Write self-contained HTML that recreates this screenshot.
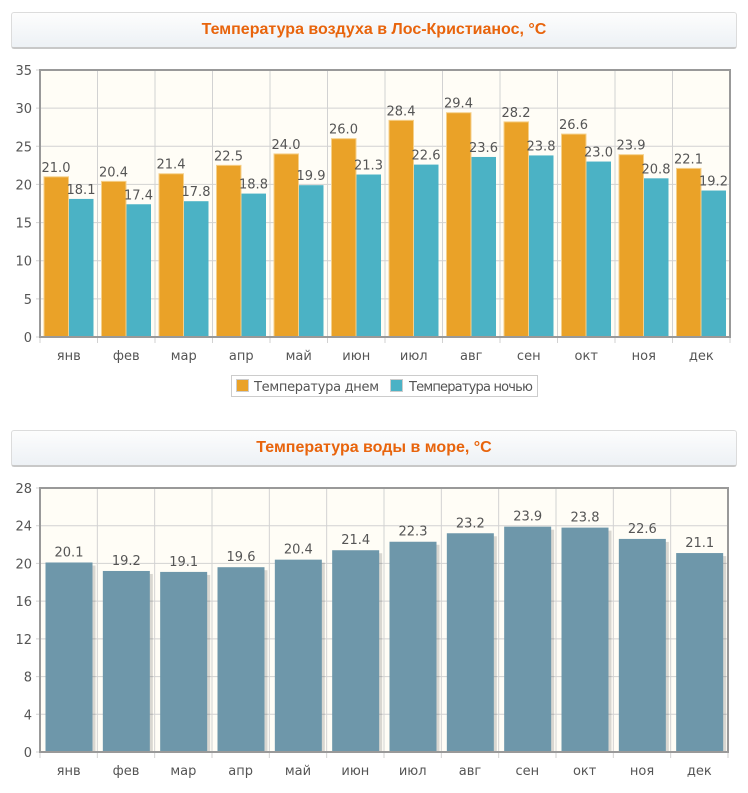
<!DOCTYPE html>
<html><head><meta charset="utf-8"><style>
body{margin:0;background:#fff;width:748px;height:793px;overflow:hidden;font-family:"Liberation Sans","DejaVu Sans",sans-serif}
.h{position:absolute;left:11px;width:724px;height:34px;border:1px solid #dcdcdc;border-bottom:2px solid #c8c8c8;border-radius:3px;background:linear-gradient(#fdfdfd,#edf1f5);text-align:center;line-height:34px;font-weight:bold;font-size:16px;color:#e8640c}
svg{position:absolute;left:0;top:0}
</style></head><body>
<div class="h" style="top:12px">Температура воздуха в Лос-Кристианос, °C</div>
<div class="h" style="top:430px">Температура воды в море, °C</div>
<svg id="s" width="748" height="793" font-family="DejaVu Sans, Liberation Sans, sans-serif"></svg>
<script>
const M=["янв","фев","мар","апр","май","июн","июл","авг","сен","окт","ноя","дек"];
const D=[21.0,20.4,21.4,22.5,24.0,26.0,28.4,29.4,28.2,26.6,23.9,22.1];
const N=[18.1,17.4,17.8,18.8,19.9,21.3,22.6,23.6,23.8,23.0,20.8,19.2];
const W=[20.1,19.2,19.1,19.6,20.4,21.4,22.3,23.2,23.9,23.8,22.6,21.1];
let h="";
function chart(x0,x1,yt,yb,max,step,cb){
 const w=(x1-x0)/12;const y=v=>yb-(yb-yt)*v/max;
 h+=`<rect x="${x0}" y="${yt}" width="${x1-x0}" height="${yb-yt}" fill="#fffdf6"/>`;
 for(let v=0;v<=max;v+=step){h+=`<line x1="${x0-4}" x2="${x1}" y1="${y(v)}" y2="${y(v)}" stroke="#d2d2d2"/>`;
  h+=`<text x="${x0-8}" y="${y(v)+5}" text-anchor="end" font-size="13" fill="#555">${v}</text>`;}
 for(let i=0;i<=12;i++){h+=`<line x1="${x0+i*w}" x2="${x0+i*w}" y1="${yt}" y2="${yb+6}" stroke="#d2d2d2"/>`;}
 cb(x0,w,y);
 h+=`<rect x="${x0}" y="${yt}" width="${x1-x0}" height="${yb-yt}" fill="none" stroke="#999" stroke-width="2"/>`;
 M.forEach((m,i)=>h+=`<text x="${x0+i*w+w/2}" y="${yb+23}" text-anchor="middle" font-size="13" fill="#555">${m}</text>`);
}
chart(40,730,70,337,35,5,(x0,w,y)=>{
 for(let i=0;i<12;i++){const a=x0+i*w+4;
  h+=`<rect x="${a}" y="${y(D[i])}" width="24.5" height="${y(0)-y(D[i])}" fill="#eaa228" stroke="#f5d08a" stroke-width="1"/>`;
  h+=`<rect x="${a+25}" y="${y(N[i])}" width="24.5" height="${y(0)-y(N[i])}" fill="#4bb2c5"/>`;
  h+=`<text x="${a+12}" y="${y(D[i])-5}" text-anchor="middle" font-size="13" fill="#555">${D[i].toFixed(1)}</text>`;
  h+=`<text x="${a+37}" y="${y(N[i])-5}" text-anchor="middle" font-size="13" fill="#555">${N[i].toFixed(1)}</text>`;}
});
h+=`<rect x="231.5" y="375.5" width="306" height="21" fill="#fff" stroke="#ccc"/>
<rect x="236.5" y="379.5" width="12" height="12" fill="#eaa228" stroke="#ccc"/>
<text x="254" y="391" font-size="13" fill="#555" textLength="125">Температура днем</text>
<rect x="390.5" y="379.5" width="12" height="12" fill="#4bb2c5" stroke="#ccc"/>
<text x="409" y="391" font-size="13" fill="#555" textLength="124">Температура ночью</text>`;
chart(40,728,488,752,28,4,(x0,w,y)=>{
 for(let i=0;i<12;i++){const a=x0+i*w+5.5;
  h+=`<rect x="${a+3}" y="${y(W[i])+3}" width="47" height="${y(0)-y(W[i])-3}" fill="#000" opacity="0.15"/>`;
  h+=`<rect x="${a}" y="${y(W[i])}" width="47" height="${y(0)-y(W[i])}" fill="#6e97aa"/>`;
  h+=`<text x="${a+23.5}" y="${y(W[i])-6}" text-anchor="middle" font-size="13" fill="#555">${W[i].toFixed(1)}</text>`;}
});
document.getElementById("s").innerHTML=h;
</script>
</body></html>
